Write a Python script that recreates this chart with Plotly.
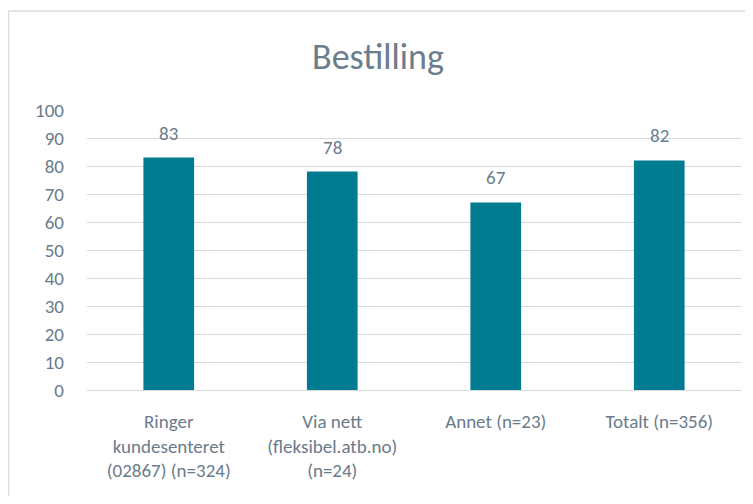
import plotly.graph_objects as go

categories = [
    "Ringer<br>kundesenteret<br>(02867) (n=324)",
    "Via nett<br>(fleksibel.atb.no)<br>(n=24)",
    "Annet (n=23)",
    "Totalt (n=356)",
]
values = [83, 78, 67, 82]
y_ticks = list(range(0, 101, 10))

TEXT = "#6A7B8B"
FONT = "Calibri, Carlito, Lato, sans-serif"

fig = go.Figure(
    go.Bar(
        x=categories,
        y=values,
        marker=dict(color="#007B8F", line=dict(width=0)),
        cliponaxis=False,
        width=0.31,
        hoverinfo="x+y",
    )
)

# page body has an 8px default margin on every side; keep the page inside the window
OFF = 8
W, H = 753 - 2 * OFF, 504 - 2 * OFF
ml, mt = 87 - OFF, 110 - OFF
mr = W - (741 - OFF)
mb = H - (390 - OFF)
pw = W - ml - mr
ph = H - mt - mb

annotations = [
    dict(
        x=c,
        y=v,
        xref="x",
        yref="y",
        text=str(v),
        showarrow=False,
        yanchor="bottom",
        yshift=11,
        font=dict(size=19, color=TEXT, family=FONT),
    )
    for c, v in zip(categories, values)
]

bx0 = (0.5 - ml) / pw
bx1 = (W - ml) / pw
by0 = -mb / ph
by1 = (H - 3 - mb) / ph
border = dict(color="#D9DDE2", width=1.5)

fig.update_layout(
    width=W,
    height=H,
    margin=dict(l=ml, r=mr, t=mt, b=mb, pad=0),
    paper_bgcolor="white",
    plot_bgcolor="white",
    font=dict(family=FONT, color=TEXT, size=19),
    title=dict(
        text="Bestilling",
        x=(378 - OFF) / W,
        xref="container",
        y=1 - (56 - OFF) / H,
        yref="container",
        xanchor="center",
        yanchor="middle",
        font=dict(size=36, color="#6B7D8D", family=FONT),
    ),
    showlegend=False,
    bargap=0.69,
    annotations=annotations,
    xaxis=dict(
        showgrid=False,
        showline=True,
        linecolor="#D9D9D9",
        linewidth=1,
        ticks="",
        ticklabelstandoff=14,
        tickfont=dict(size=19, color=TEXT),
    ),
    yaxis=dict(
        range=[0, 100],
        tickvals=y_ticks,
        showgrid=True,
        gridcolor="#D9D9D9",
        gridwidth=1,
        zeroline=False,
        showline=False,
        ticks="",
        ticklabelstandoff=22,
        tickfont=dict(size=19, color=TEXT),
    ),
    shapes=[
        dict(type="line", xref="paper", yref="paper",
             x0=bx0, x1=bx1, y0=by1, y1=by1, line=border, layer="below"),
        dict(type="line", xref="paper", yref="paper",
             x0=bx0, x1=bx0, y0=by0, y1=by1, line=border, layer="below"),
    ],
)

fig.write_html("out.html")
